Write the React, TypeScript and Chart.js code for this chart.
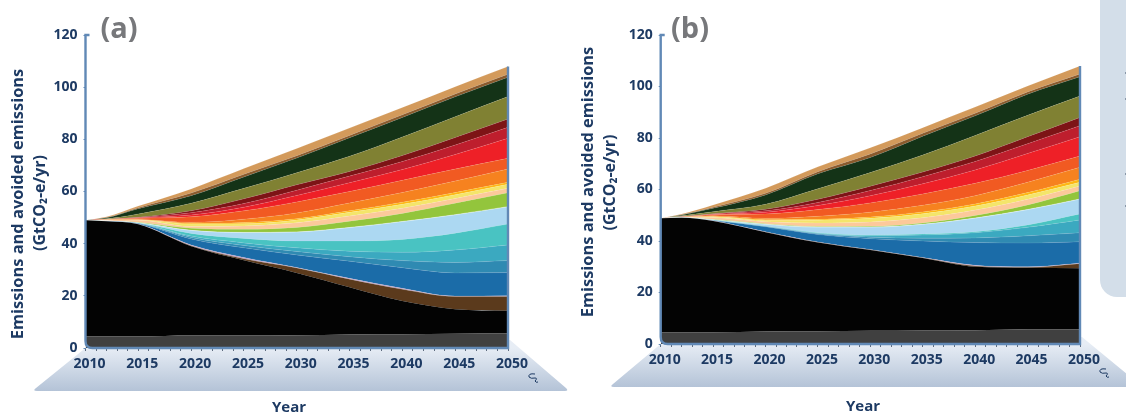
import React, { useEffect, useRef } from "react";
import { Chart, registerables } from "chart.js";

Chart.register(...registerables);

const years = [2010, 2012, 2015, 2020, 2025, 2030, 2035, 2040, 2045, 2050];

// Panel (a): top edge of each stacked band, GtCO2-e/yr
const aGrey = [4.5, 4.5, 4.5, 4.8, 4.8, 4.9, 5.2, 5.3, 5.5, 5.6];
const aBlack = [49, 48.6, 47.4, 39, 33.6, 28.8, 23.3, 18, 14.9, 14.3];
const aBrown = [49, 48.6, 47.45, 39.2, 34.2, 30.7, 26.4, 22.5, 19.7, 19.7];
const aLilac = [49, 48.6, 47.5, 39.5, 34.7, 30.9, 26.7, 22.9, 19.9, 20];
const aBlue = [49, 48.65, 47.7, 41.8, 38.4, 35.7, 33.3, 30.8, 28.8, 28.9];
const aSteel = [49, 48.65, 47.8, 42.4, 39.3, 37, 35, 33.5, 32.8, 33.5];
const aCyan = [49, 48.7, 47.85, 42.9, 40.3, 38.4, 37.1, 36.7, 37.6, 39.5];
const aTeal = [49, 48.7, 47.9, 43.9, 42, 41, 41, 41.6, 44, 47.5];
const aSky = [49, 48.75, 48, 45.1, 44.3, 44.5, 46.2, 48.5, 51.1, 54.2];
const aGreen = [49, 48.8, 48.2, 45.9, 45.5, 46.2, 48.6, 51.6, 55.5, 59.5];
const aPeach = [49, 49.05, 49, 46.6, 46.8, 48, 50.6, 53.6, 57.3, 61.2];
const aYellow = [49, 49.1, 49.1, 47.5, 47.6, 49.1, 52, 55.1, 58.8, 62.8];
const aAmber = [49, 49.15, 49.2, 47.8, 48.1, 49.6, 52.6, 55.9, 59.6, 63.5];
const aOrange = [49, 49.2, 49.3, 48.2, 49.4, 51.8, 55.6, 59.6, 64, 68.6];
const aDeepOrange = [49, 49.25, 49.7, 50.3, 52.6, 56, 60, 64.3, 68.6, 72.7];
const aRed = [49, 49.3, 49.9, 51, 54, 58.5, 63.4, 68.4, 74.2, 80.4];
const aCrimson = [49, 49.35, 50, 51.9, 55.4, 60.5, 65.9, 71.5, 77.8, 84.6];
const aMaroon = [49, 49.4, 50.1, 52.6, 57.2, 62.6, 67.7, 73.8, 80.7, 87.8];
const aOlive = [49, 49.55, 51.4, 55.5, 61.2, 67.2, 73.5, 80.9, 88.7, 96.4];
const aForest = [49, 49.9, 53.4, 58.4, 65.6, 72.8, 80.6, 88.4, 96.3, 103.8];
const aUmber = [49, 50, 53.8, 59.4, 66.6, 73.7, 81.5, 89.4, 97.4, 105];
const aTan = [49, 50.3, 54.4, 61, 68.8, 76.5, 84.3, 92.2, 100.2, 107.9];

// Panel (b): top edge of each stacked band, GtCO2-e/yr
const bGrey = [4.6, 4.6, 4.6, 4.9, 5, 5.1, 5.2, 5.3, 5.7, 5.7];
const bBlack = [48.8, 49, 47.75, 43.4, 39.4, 36.5, 33.4, 30, 29.6, 29.4];
const bBrown = [48.8, 49, 47.8, 43.5, 39.5, 36.6, 33.5, 30.3, 29.8, 31.2];
const bLilac = [48.8, 49, 47.85, 43.6, 39.6, 36.7, 33.6, 30.6, 30, 31.4];
const bBlue = [48.8, 49.05, 48, 45.5, 42.5, 40.9, 40, 39.4, 39.2, 39.7];
const bSteel = [48.8, 49.05, 48.05, 45.6, 42.8, 41.5, 41.1, 41.2, 42, 43.2];
const bCyan = [48.8, 49.1, 48.1, 45.7, 43, 42, 42.3, 43.2, 45.3, 48.2];
const bTeal = [48.8, 49.1, 48.15, 45.8, 43.2, 42.3, 42.7, 43.6, 46.2, 50.5];
const bSky = [48.8, 49.15, 48.3, 46.5, 45.4, 45.4, 46.5, 48.9, 52.2, 56.3];
const bGreen = [48.8, 49.15, 48.4, 46.7, 45.6, 45.7, 47, 49.9, 54, 59.5];
const bPeach = [48.8, 49.2, 49.1, 47.5, 47, 47.4, 49, 52, 56.2, 61.4];
const bYellow = [48.8, 49.25, 49.4, 48, 48.1, 48.8, 50.6, 53.6, 57.9, 62.8];
const bAmber = [48.8, 49.25, 49.5, 48.3, 48.4, 49.3, 51.3, 54.4, 58.8, 64];
const bOrange = [48.8, 49.3, 49.8, 48.8, 49.6, 51.2, 53.9, 57.6, 62.8, 68.6];
const bDeepOrange = [48.8, 49.35, 50.2, 50.5, 52.2, 54.8, 58.3, 62.4, 67.4, 73];
const bRed = [48.8, 49.4, 50.3, 51.2, 53.8, 57.6, 62.2, 67.6, 74, 80.5];
const bCrimson = [48.8, 49.4, 50.5, 51.7, 55, 59.6, 65, 70.9, 77.8, 84.8];
const bMaroon = [48.8, 49.5, 50.6, 52.3, 56.2, 61.3, 66.8, 73, 80.5, 88];
const bOlive = [48.8, 49.8, 51.4, 54.3, 60.3, 66.6, 73.4, 81, 88.8, 96.3];
const bForest = [48.8, 50.1, 52.7, 57.9, 66.1, 72.4, 80.7, 88.6, 97, 103.8];
const bUmber = [48.8, 50.2, 53.1, 58.5, 66.9, 73.8, 81.8, 89.6, 97.9, 104.9];
const bTan = [48.8, 50.5, 54, 60.5, 68.8, 76.2, 84, 92, 100.2, 108];

const bandColors = [
  "#404040", "#030303", "#5b3a1c", "#b79ac0", "#1b6ca8", "#2f8ab2", "#3ba9c0", "#49c3c2",
  "#acd8f2", "#93c53c", "#fcc99a", "#f4e56a", "#fdb813", "#f6821f", "#f15a22", "#ee2027",
  "#be1e2d", "#7d1416", "#808133", "#143317", "#8a5a2c", "#d39a5b",
];

const aBands = [aGrey, aBlack, aBrown, aLilac, aBlue, aSteel, aCyan, aTeal, aSky, aGreen, aPeach, aYellow, aAmber, aOrange, aDeepOrange, aRed, aCrimson, aMaroon, aOlive, aForest, aUmber, aTan];
const bBands = [bGrey, bBlack, bBrown, bLilac, bBlue, bSteel, bCyan, bTeal, bSky, bGreen, bPeach, bYellow, bAmber, bOrange, bDeepOrange, bRed, bCrimson, bMaroon, bOlive, bForest, bUmber, bTan];

const yTitleLines = ["Emissions and avoided emissions", "(GtCO₂-e/yr)"];
const xTitle = "Year";
const NAVY = "#1d3a63";
const AXIS_BLUE = "#6189b6";
const FONT = '"Open Sans", sans-serif';

type Panel = {
  tag: string;
  bands: number[][];
  left: number;
  width: number;
  axisLeft: number;
  axisRight: number;
  axisBottom: number;
  axisTop: number;
  title1Y: number;
  title1X: number;
  title2X: number;
  title2Y: number;
  yearX: number;
  yearY: number;
  tagX: number;
  floorBottom: number;
  floorLeft: number;
  floorRight: number;
  floorRise: number;
  squiggleX: number;
  squiggleY: number;
};

const panels: Panel[] = [
  { tag: "(a)", bands: aBands, left: 0, width: 572, axisLeft: 85.5, axisRight: 508, axisBottom: 348, axisTop: 35,
    title1X: 18, title1Y: 204, title2X: 40, title2Y: 203, yearX: 289, yearY: 408, tagX: 119,
    floorBottom: 391, floorLeft: 34, floorRight: 569, floorRise: 8, squiggleX: 533, squiggleY: 378 },
  { tag: "(b)", bands: bBands, left: 572, width: 554, axisLeft: 660.7, axisRight: 1080, axisBottom: 344, axisTop: 35,
    title1X: 588, title1Y: 182, title2X: 610.5, title2Y: 182.5, yearX: 863, yearY: 407, tagX: 690,
    floorBottom: 387, floorLeft: 611, floorRight: 1142, floorRise: 7, squiggleX: 1104, squiggleY: 373 },
];

// Cut-off text marks at the edge of the side box
const sideMarks = [73, 99, 174, 206];

function rotatedText(ctx: CanvasRenderingContext2D, text: string, x: number, y: number) {
  ctx.save();
  ctx.translate(x, y);
  ctx.rotate(-Math.PI / 2);
  ctx.fillText(text, 0, 0);
  ctx.restore();
}

function PanelChart({ p }: { p: Panel }) {
  const ref = useRef<HTMLCanvasElement>(null);
  useEffect(() => {
    const decor = {
      id: "decor",
      beforeDraw(chart: any) {
        const { ctx } = chart;
        const xs = chart.scales.x;
        const ys = chart.scales.y;
        const x1 = xs.getPixelForValue(2050);
        const yb = ys.getPixelForValue(0);
        const fb = p.floorBottom;
        const fl = p.floorLeft - p.left;
        const fr = p.floorRight - p.left;
        const g = ctx.createLinearGradient(0, yb, 0, fb);
        g.addColorStop(0, "#e7edf5");
        g.addColorStop(1, "#b4c3d7");
        ctx.save();
        ctx.fillStyle = g;
        ctx.beginPath();
        ctx.moveTo(xs.getPixelForValue(2010), yb);
        ctx.lineTo(x1 + 2, yb - p.floorRise);
        ctx.lineTo(fr - 3, fb - 3);
        ctx.quadraticCurveTo(fr, fb, fr - 4, fb);
        ctx.lineTo(fl + 3, fb);
        ctx.quadraticCurveTo(fl - 2, fb, fl + 2, fb - 3);
        ctx.closePath();
        ctx.fill();
        ctx.restore();
      },
      afterDraw(chart: any) {
        const { ctx } = chart;
        const xs = chart.scales.x;
        const ys = chart.scales.y;
        const x0 = xs.getPixelForValue(2010);
        const x1 = xs.getPixelForValue(2050);
        const y0 = ys.getPixelForValue(0);
        const yTop = ys.getPixelForValue(120);
        const lastTop = p.bands[p.bands.length - 1][years.length - 1];
        ctx.save();
        // axis frame with the rounded corner at the origin
        ctx.strokeStyle = AXIS_BLUE;
        ctx.lineWidth = 2.4;
        ctx.beginPath();
        ctx.moveTo(x0 + 4, yTop);
        ctx.lineTo(x0, yTop);
        ctx.lineTo(x0, y0 - 7);
        ctx.quadraticCurveTo(x0, y0, x0 + 7, y0);
        ctx.lineTo(x1, y0);
        ctx.lineTo(x1, ys.getPixelForValue(lastTop));
        ctx.stroke();
        // small mark beside the 2050 label
        const sx = p.squiggleX - p.left;
        const sy = p.squiggleY;
        ctx.strokeStyle = NAVY;
        ctx.lineWidth = 1;
        ctx.beginPath();
        ctx.moveTo(sx + 2, sy - 4);
        ctx.quadraticCurveTo(sx - 5, sy - 5, sx - 4, sy - 1);
        ctx.quadraticCurveTo(sx - 2, sy + 1, sx + 2, sy);
        ctx.quadraticCurveTo(sx + 5, sy, sx + 2, sy + 3);
        ctx.quadraticCurveTo(sx + 3, sy + 5, sx + 5, sy + 4);
        ctx.stroke();
        // titles
        ctx.fillStyle = NAVY;
        ctx.textAlign = "center";
        ctx.textBaseline = "middle";
        ctx.font = `700 16.4px ${FONT}`;
        rotatedText(ctx, yTitleLines[0], p.title1X - p.left, p.title1Y);
        ctx.font = `700 16px ${FONT}`;
        rotatedText(ctx, yTitleLines[1], p.title2X - p.left, p.title2Y);
        ctx.font = `700 15px ${FONT}`;
        ctx.fillText(xTitle, p.yearX - p.left, p.yearY);
        ctx.fillStyle = "#77787b";
        ctx.font = `700 29px ${FONT}`;
        ctx.fillText(p.tag, p.tagX - p.left, 30);
        ctx.restore();
      },
    };

    const chart = new Chart(ref.current as HTMLCanvasElement, {
      type: "line",
      data: {
        datasets: p.bands.map((values, i) => ({
          label: `band ${i + 1}`,
          data: values.map((y, k) => ({ x: years[k], y })),
          backgroundColor: bandColors[i],
          borderColor: i === 8 ? "rgba(255,255,255,0.7)" : "rgba(255,255,255,0.18)",
          borderWidth: i < 2 ? 0 : 0.6,
          pointRadius: 0,
          cubicInterpolationMode: "monotone",
          fill: i === 0 ? "origin" : "-1",
        })),
      },
      options: {
        animation: false,
        responsive: false,
        layout: {
          padding: { left: 0, top: p.axisTop, right: p.left + p.width - p.axisRight, bottom: 0 },
        },
        plugins: { legend: { display: false }, tooltip: { enabled: false } },
        scales: {
          x: {
            type: "linear",
            min: 2010,
            max: 2050,
            afterFit: (s: any) => { s.height = 416 - p.axisBottom; },
            afterBuildTicks: (s: any) => {
              s.ticks = [];
              for (let y = 2010; y <= 2050; y++) s.ticks.push({ value: y });
            },
            border: { display: false },
            grid: { drawOnChartArea: false, tickLength: 3, tickColor: "#3a4a60", tickWidth: 0.8 },
            ticks: {
              autoSkip: false,
              maxRotation: 0,
              minRotation: 0,
              labelOffset: 4,
              padding: 5,
              color: NAVY,
              font: { family: FONT, size: 14, weight: 700 },
              callback: (v: any) => (Number(v) % 5 === 0 ? String(v) : ""),
            },
          },
          y: {
            min: 0,
            max: 120,
            afterFit: (s: any) => { s.width = p.axisLeft - p.left; },
            border: { display: false },
            grid: { drawOnChartArea: false, tickLength: 2, tickColor: AXIS_BLUE },
            ticks: {
              stepSize: 20,
              padding: 6,
              color: NAVY,
              font: { family: FONT, size: 14, weight: 700 },
            },
          },
        },
      },
      plugins: [decor],
    } as any);
    return () => chart.destroy();
  }, [p]);
  return (
    <canvas
      ref={ref}
      width={p.width}
      height={416}
      style={{ position: "absolute", left: p.left, top: 0, width: p.width, height: 416 }}
    />
  );
}

export default function App() {
  return (
    <div style={{ position: "fixed", left: 0, top: 0, width: 1126, height: 416, background: "#fff", overflow: "hidden" }}>
      <div style={{ position: "absolute", left: 1100, top: 0, width: 40, height: 297, background: "#d3dee9", borderBottomLeftRadius: 17 }} />
      {sideMarks.map((y) => (
        <div key={y} style={{ position: "absolute", left: 1125, top: y - 1, width: 1, height: 2, background: "#8a98a8" }} />
      ))}
      {panels.map((p) => (
        <PanelChart key={p.tag} p={p} />
      ))}
    </div>
  );
}
